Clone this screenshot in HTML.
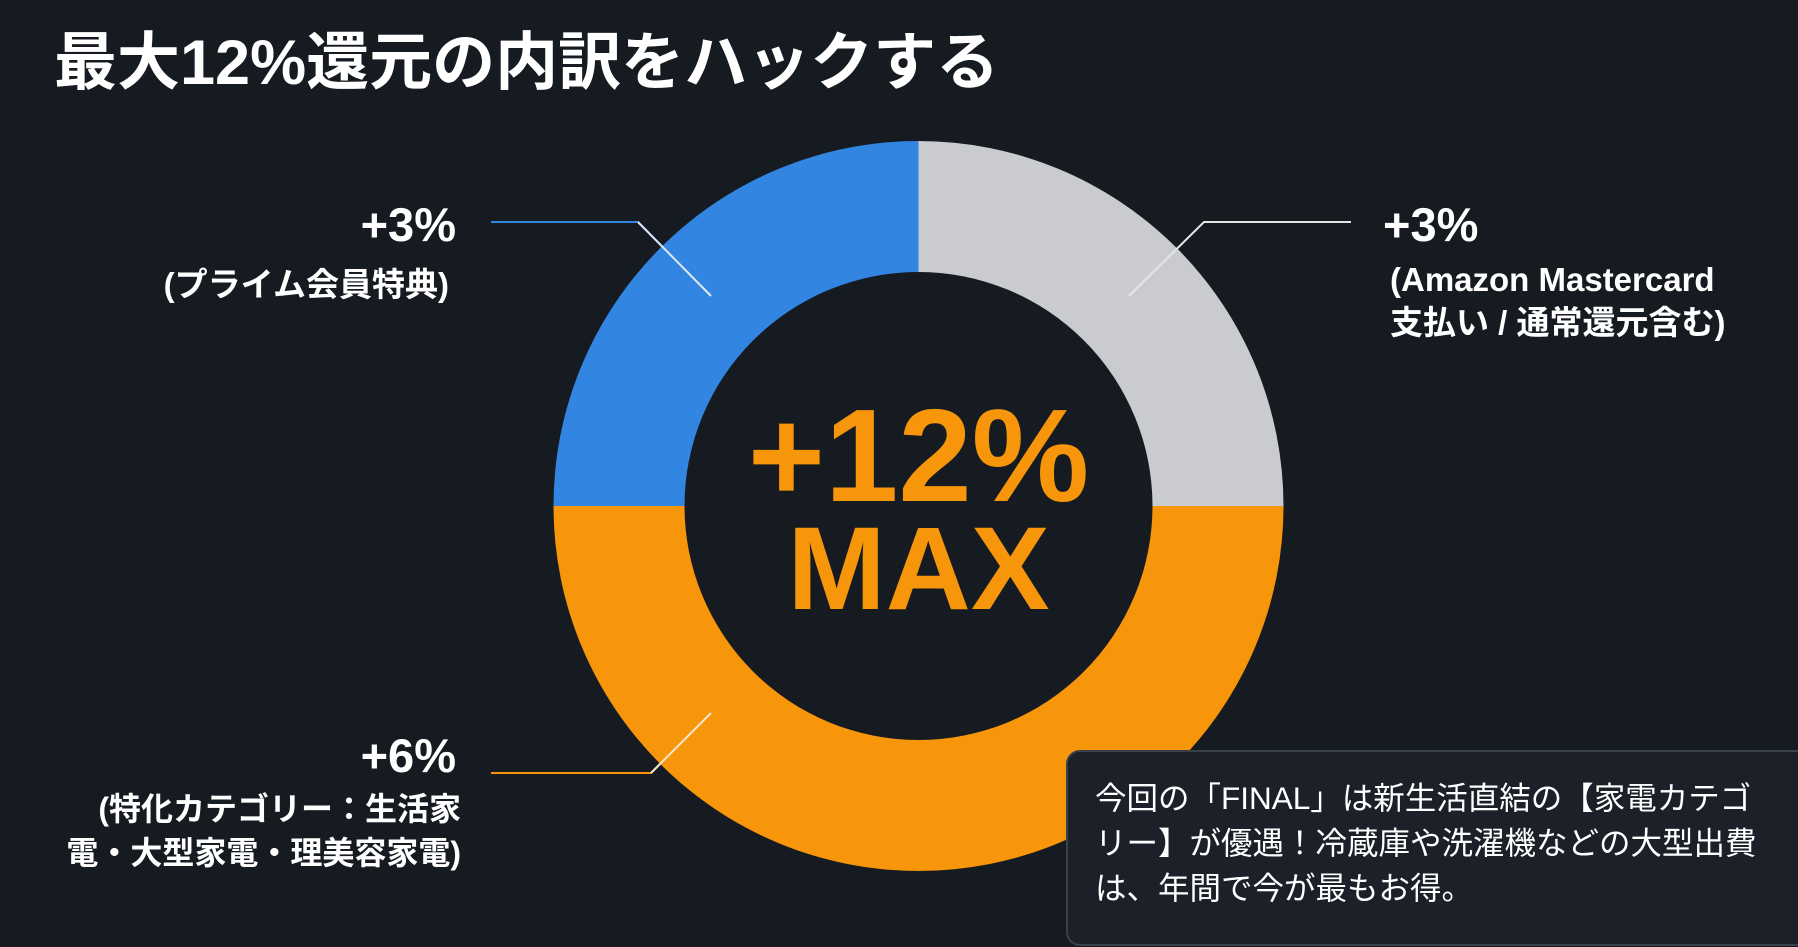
<!DOCTYPE html>
<html><head><meta charset="utf-8"><style>
html,body{margin:0;padding:0;background:#161b22;}
body{width:1798px;height:947px;position:relative;overflow:hidden;font-family:"Liberation Sans","Noto Sans CJK JP",sans-serif;color:#fff;}
.t{position:absolute;white-space:nowrap;}
</style></head><body>
<svg width="1798" height="947" style="position:absolute;left:0;top:0">
<path d="M918.5,141 A365,365 0 0 1 1283.5,506 L1152.5,506 A234,234 0 0 0 918.5,272 Z" fill="#c9cbce"/>
<path d="M918.5,141 A365,365 0 0 0 553.5,506 L684.5,506 A234,234 0 0 1 918.5,272 Z" fill="#3385e2"/>
<path d="M553.5,506 A365,365 0 0 0 1283.5,506 L1152.5,506 A234,234 0 0 1 684.5,506 Z" fill="#f7960a"/>
<polyline points="491,222 638,222 711,296" fill="none" stroke="#3385e2" stroke-width="2"/>
<line x1="638" y1="222" x2="711" y2="296" stroke="#dfe8f5" stroke-width="2"/>
<polyline points="1351,222 1204,222 1129,296" fill="none" stroke="#e6e6e6" stroke-width="2"/>
<polyline points="491,773 651,773 711,713" fill="none" stroke="#f7960a" stroke-width="2"/>
<line x1="651" y1="773" x2="711" y2="713" stroke="#f5e6cc" stroke-width="2"/>
</svg>
<div class="t" style="left:54px;top:12px;font-size:63px;font-weight:bold;">最大12%還元の内訳をハックする</div>
<div class="t" style="right:1342px;top:197px;font-size:47px;font-weight:bold;">+3%</div>
<div class="t" style="right:1349px;top:258px;font-size:33px;font-weight:bold;">(プライム会員特典)</div>
<div class="t" style="left:1383px;top:197px;font-size:47px;font-weight:bold;">+3%</div>
<div class="t" style="left:1390px;top:258px;font-size:33px;font-weight:bold;line-height:43px;">(Amazon Mastercard<br>支払い / 通常還元含む)</div>
<div class="t" style="right:1342px;top:728px;font-size:47px;font-weight:bold;">+6%</div>
<div class="t" style="right:1337px;top:787px;font-size:32px;font-weight:bold;line-height:44px;text-align:right;">(特化カテゴリー：生活家<br>電・大型家電・理美容家電)</div>
<div class="t" style="left:0;width:1837px;text-align:center;top:386px;font-size:132px;font-weight:bold;color:#f7960a;line-height:140px;">+12%</div>
<div class="t" style="left:0;width:1837px;text-align:center;top:504px;font-size:118px;font-weight:bold;color:#f7960a;line-height:130px;">MAX</div>
<div style="position:absolute;left:1066px;top:750px;width:760px;height:192px;background:#1b2029;border:2px solid #3a4049;border-radius:14px;"></div>
<div class="t" style="left:1095px;top:776px;font-size:31.5px;line-height:45px;">今回の「FINAL」は新生活直結の【家電カテゴ<br>リー】が優遇！冷蔵庫や洗濯機などの大型出費<br>は、年間で今が最もお得。</div>
</body></html>
